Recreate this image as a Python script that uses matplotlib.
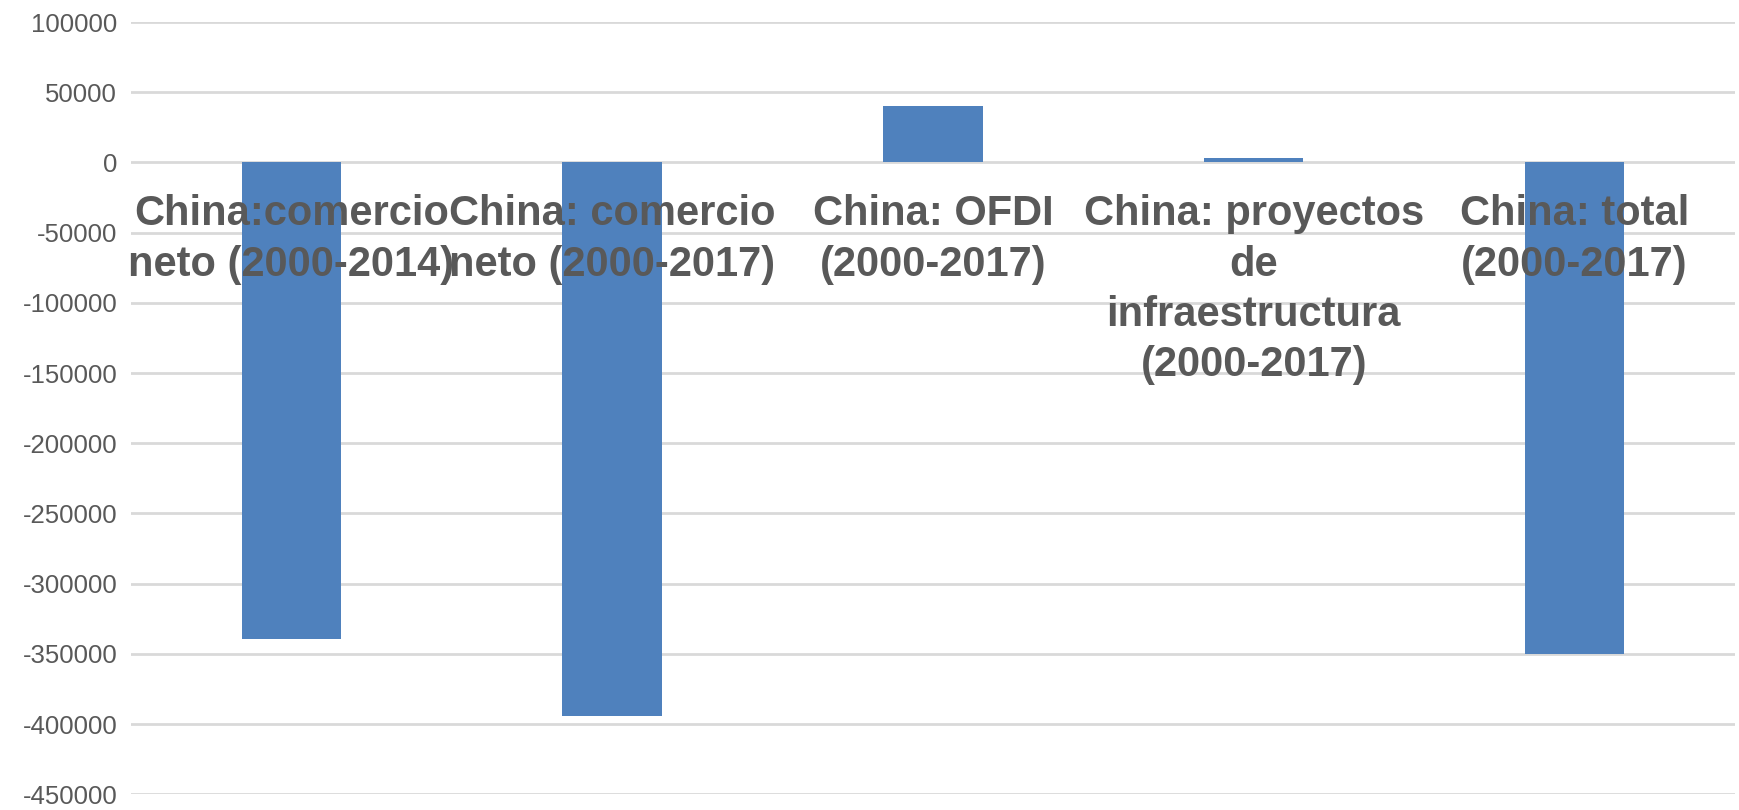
import matplotlib.pyplot as plt

categories = [
    "China:comercio\nneto (2000-2014)",
    "China: comercio\nneto (2000-2017)",
    "China: OFDI\n(2000-2017)",
    "China: proyectos\nde\ninfraestructura\n(2000-2017)",
    "China: total\n(2000-2017)",
]
values = [-339700, -394600, 40500, 3000, -350300]
yticks = list(range(-450000, 100001, 50000))

grey = "#595959"
plt.rcParams["font.family"] = ["Liberation Sans", "DejaVu Sans"]

fig = plt.figure(figsize=(17.4, 8.1), dpi=100)
ax = fig.add_axes([0.0753, 0.0195, 0.9218, 0.9533])

x = list(range(len(values)))
ax.bar(x, values, width=0.31, color="#4f81bd", zorder=2)

ax.set_xlim(-0.5, len(values) - 0.5)
ax.set_ylim(-450000, 100000)
ax.set_yticks(yticks)
ax.set_yticklabels([str(v) for v in yticks], fontsize=18.5, color=grey)
ax.tick_params(axis="y", length=0, pad=10)
ax.set_xticks([])
ax.grid(axis="y", color="#d9d9d9", linewidth=2, zorder=0)
for s in ax.spines.values():
    s.set_visible(False)

# category labels sit just under the zero line, over the bars
for i, lab in enumerate(categories):
    ax.annotate(lab, (i, 0), xytext=(0, -23), textcoords="offset points",
                ha="center", va="top", fontsize=30, fontweight="bold",
                color=grey, linespacing=1.33, zorder=3)

fig.savefig("out.png", dpi=100)
